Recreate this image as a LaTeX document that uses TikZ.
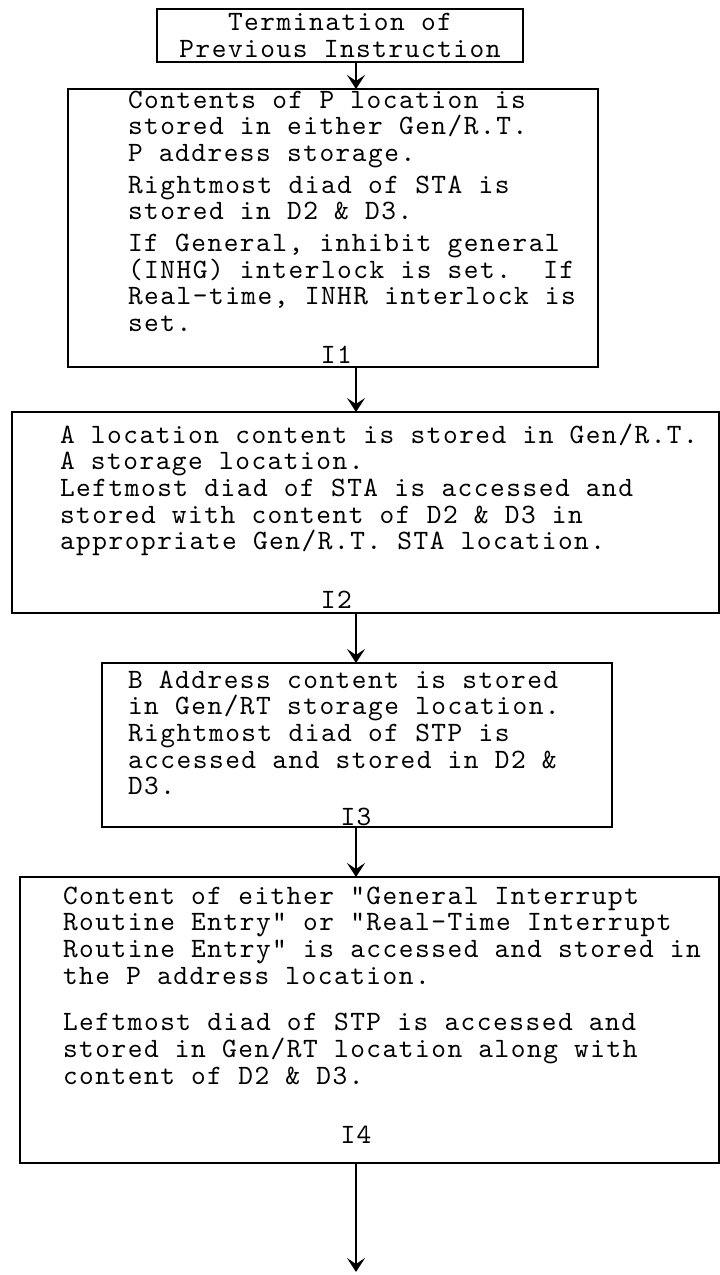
\documentclass[tikz,border=0pt]{standalone}
\usepackage{fontspec}
\setmonofont{lmmono10-regular.otf}[LetterSpace=5.4]
\usetikzlibrary{arrows.meta}
\usetikzlibrary{positioning}
\newcommand{\tstrut}{\rule{0pt}{24pt}}

\begin{document}
\begin{tikzpicture}[>={Stealth[length=14pt,width=18pt,inset=6pt]},line width=1.8pt,
    every node/.style={font=\ttfamily\fontsize{28pt}{26.7pt}\selectfont\frenchspacing},
    box/.style={draw,rectangle,inner sep=0pt,outer sep=0pt},
    txt/.style={align=left,inner sep=0pt,outer sep=0pt}]

      \useasboundingbox (0,0) rectangle (720pt,-1275pt);
      \coordinate (ax) at (356pt,0);
      \coordinate (out) at (356pt,-1272pt);

      % boxes
      \node (term) [box,align=center,minimum width=366pt,minimum height=53pt] at (340pt,-35.5pt)
        {Termination of\\Previous Instruction};
      \node (I1) [box,minimum width=530pt,minimum height=278pt,below=27pt of term,xshift=-7pt] {};
      \node (I2) [box,minimum width=707pt,minimum height=201pt,below=45pt of I1,xshift=32.5pt] {};
      \node (I3) [box,minimum width=510pt,minimum height=164pt,below=50pt of I2,xshift=-8.5pt] {};
      \node (I4) [box,minimum width=699pt,minimum height=286pt,below=50pt of I3,xshift=12.5pt] {};

      % texts
      \node (I1text) [txt,below right=-5pt and 60pt of I1.north west]
        {\tstrut Contents of P location is\\
         stored in either Gen/R.T.\\
         P address storage.\\[5pt]
         Rightmost diad of STA is\\
         stored in D2 \& D3.\\[5pt]
         If General, inhibit general\\
         (INHG) interlock is set.\ \ If\\
         Real-time, INHR interlock is\\
         set.};
      \node (I2text) [txt,below right=7pt and 48pt of I2.north west]
        {\tstrut A location content is stored in Gen/R.T.\\
         A storage location.\\
         Leftmost diad of STA is accessed and\\
         stored with content of D2 \& D3 in\\
         appropriate Gen/R.T. STA location.};
      \node (I3text) [txt,below right=1pt and 26pt of I3.north west]
        {\tstrut B Address content is stored\\
         in Gen/RT storage location.\\
         Rightmost diad of STP is\\
         accessed and stored in D2 \&\\
         D3.};
      \node (I4text) [txt,below right=3pt and 43pt of I4.north west]
        {\tstrut Content of either "General Interrupt\\
         Routine Entry" or "Real-Time Interrupt\\
         Routine Entry" is accessed and stored in\\
         the P address location.\\[20pt]
         Leftmost diad of STP is accessed and\\
         stored in Gen/RT location along with\\
         content of D2 \& D3.};

      % labels
      \node (I1lab) [anchor=base east,xshift=23pt,yshift=4pt] at (I1.south) {I1};
      \node (I2lab) [anchor=base east,xshift=-9.5pt,yshift=5pt] at (I2.south) {I2};
      \node (I3lab) [anchor=base,xshift=-1pt,yshift=2pt] at (I3.south) {I3};
      \node (I4lab) [anchor=base,xshift=-13.5pt,yshift=20pt] at (I4.south) {I4};

      \path[->]
        (term.south -| ax) edge (I1.north -| ax)
        (I1.south -| ax) edge (I2.north -| ax)
        (I2.south -| ax) edge (I3.north -| ax)
        (I3.south -| ax) edge (I4.north -| ax)
        (I4.south -| ax) edge (out);
\end{tikzpicture}
\end{document}
